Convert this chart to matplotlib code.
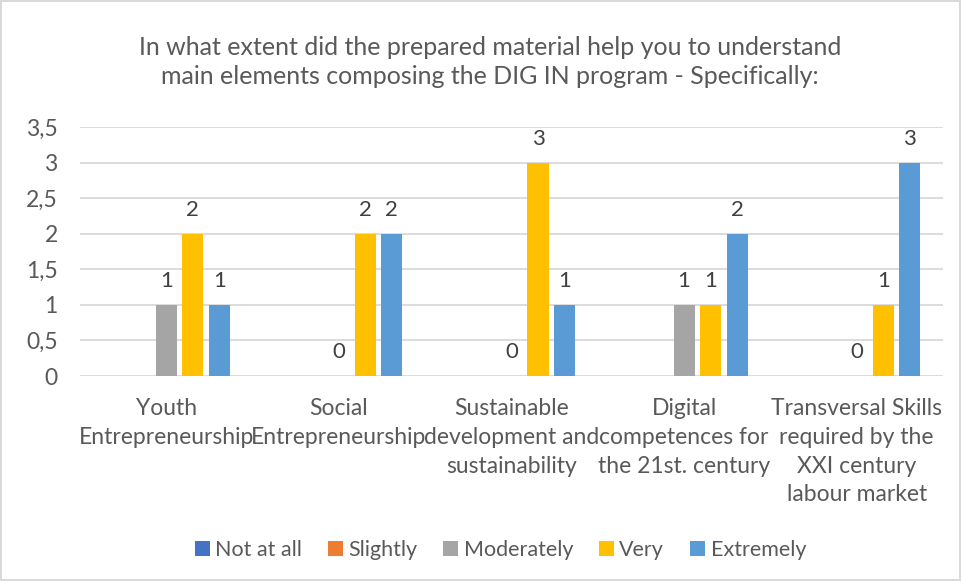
import matplotlib.pyplot as plt
import numpy as np

# categories and answer counts (None = no answer, no bar, no label)
categories = ['Youth\nEntrepreneurship', 'Social\nEntrepreneurship',
              'Sustainable\ndevelopment and\nsustainability',
              'Digital\ncompetences for\nthe 21st. century',
              'Transversal Skills\nrequired by the\nXXI century\nlabour market']
series = ['Not at all', 'Slightly', 'Moderately', 'Very', 'Extremely']
not_at_all = [None, None, None, None, None]
slightly = [None, None, None, None, None]
moderately = [1, 0, 0, 1, 0]
very = [2, 2, 3, 1, 1]
extremely = [1, 2, 1, 2, 3]
colors = ['#4472c4', '#ed7d31', '#a5a5a5', '#ffc000', '#5b9bd5']
title = ('In what extent did the prepared material help you to understand\n'
         'main elements composing the DIG IN program - Specifically:')

plt.rcParams['font.family'] = ['Lato', 'DejaVu Sans']
txt = '#595959'

fig = plt.figure(figsize=(9.61, 5.81), dpi=100)
fig.patch.set_edgecolor('#d9d9d9')
fig.patch.set_linewidth(1.5)
ax = fig.add_axes([0.0832, 0.3528, 0.8981, 0.4286])

x = np.arange(len(categories))
slot = 0.1535
bw = 0.122
data = [not_at_all, slightly, moderately, very, extremely]
for i, (name, vals, c) in enumerate(zip(series, data, colors)):
    pos = x + (i - 2) * slot
    h = [np.nan if v is None else v for v in vals]
    ax.bar(pos, h, width=bw, color=c, label=name, zorder=2)
    for p, v in zip(pos, vals):
        if v is None:
            continue
        ax.annotate(str(v), (p, v), xytext=(0, 17.3), textcoords='offset points',
                    ha='center', va='center', fontsize=16, color='#404040')

ax.set_xlim(-0.5, len(categories) - 0.5)
ax.set_ylim(0, 3.5)
ticks = np.arange(0, 3.51, 0.5)
ax.set_yticks(ticks)
ax.set_yticklabels([('%g' % t).replace('.', ',') for t in ticks])
ax.set_xticks(x)
ax.set_xticklabels(categories, linespacing=1.45)
ax.tick_params(axis='y', length=0, pad=16, labelsize=16.5, labelcolor=txt)
ax.tick_params(axis='x', length=0, pad=16, labelsize=16.5, labelcolor=txt)
for s in ax.spines.values():
    s.set_visible(False)
ax.grid(axis='y', color='#d9d9d9', linewidth=1.3, zorder=0)
ax.set_axisbelow(True)

fig.text(0.51, 0.893, title, ha='center', va='center', fontsize=18,
         color=txt, linespacing=1.3)

ax.legend(loc='center', bbox_to_anchor=(0.487, -0.7), ncol=5, frameon=False,
          fontsize=15.5, labelcolor=txt, handlelength=0.7, handleheight=0.7,
          handletextpad=0.25, columnspacing=1.2)

fig.savefig('out.png', dpi=100, edgecolor=fig.get_edgecolor())
